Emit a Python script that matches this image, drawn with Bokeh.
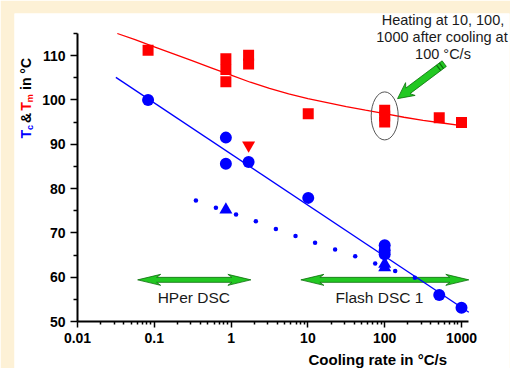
import numpy as np
from bokeh.plotting import figure
from bokeh.models import Label, FixedTicker
from bokeh.embed import file_html
from bokeh.resources import INLINE

# ---------------- data ----------------
x_ticks = [0.01, 0.1, 1, 10, 100, 1000]
x_tick_labels = ["0.01", "0.1", "1", "10", "100", "1000"]
y_ticks = [50, 60, 70, 80, 90, 100, 110]
y_minor = [55, 65, 75, 85, 95, 105, 115]
x_bounds = (0.01, 1245)
y_bounds = (50, 115)

# melting temperature Tm (red squares)
tm_rate = [0.083, 0.855, 0.855, 0.855, 1.69, 1.69, 10.1, 100, 100, 100, 513, 1000]
tm_temp = [111.2, 109.3, 106.9, 104.1, 110.1, 108.1, 96.9, 97.7, 96.4, 95.0, 96.0, 94.9]
# Tm fit curve
tm_fit_rate = [0.033, 0.0562, 0.1, 0.178, 0.316, 0.562, 1, 1.78, 3.16, 5.62, 10,
               17.8, 31.6, 56.2, 100, 178, 316, 562, 1000]
tm_fit_temp = [115.0, 113.6, 112.0, 110.4, 108.8, 107.2, 105.6, 104.0, 102.6, 101.4,
               100.3, 99.4, 98.5, 97.7, 96.9, 96.1, 95.4, 94.8, 94.2]
# red down triangle
tm2_rate = [1.69]
tm2_temp = [89.8]

# crystallisation temperature Tc (blue circles)
tc_rate = [0.083, 0.855, 0.855, 1.69, 10.1, 100, 100, 100, 513, 1000]
tc_temp = [100.0, 91.5, 85.6, 86.0, 77.9, 67.2, 66.1, 65.2, 56.0, 53.1]
# blue up triangles
tc2_rate = [0.855, 100, 100]
tc2_temp = [75.2, 63.0, 62.2]
# small blue dots (dotted series)
tcd_rate = [0.348, 0.634, 1.16, 2.1, 3.83, 6.9, 12.4, 22.6, 41.3, 75.2, 137, 247]
tcd_temp = [77.3, 75.7, 74.15, 72.6, 70.9, 69.3, 67.8, 66.25, 64.7, 63.1, 61.4, 59.9]
# Tc linear fit (in log rate)
tc_fit_rate = [0.0316, 1245]
tc_fit_temp = [105.1, 52.1]

# double arrows (ranges of instruments)
hper_range = [0.0607, 1.81]
flash_range = [8.1, 1245]
range_temp = 59.4
# pointer arrow: tail and tip
ptr_rate = [596, 147]
ptr_temp = [108.2, 100.3]
# ellipse around heating points
ell_rate = [100]
ell_temp = [96.4]

# ---------------- layout ----------------
W, H = 510, 368
PX_DEC = 76.8            # pixels per decade
PX_DEG = 288 / 65.0      # pixels per degree
AX_X, AX_Y = 77, 321     # canvas position of the axes origin (0.01, 50)
FR_L, FR_R, FR_T, FR_B = 14, 509, 13, 368   # white panel (plot frame), canvas px

def px2x(px):
    return 10 ** (-2 + (px - AX_X) / PX_DEC)

def py2y(py):
    return 50 + (AX_Y - py) / PX_DEG

def x2px(x):
    return AX_X + (np.log10(x) + 2) * PX_DEC

def y2py(y):
    return AX_Y - (y - 50) * PX_DEG

FONT = "Liberation Sans"
CREAM = "#fdf1d6"

p = figure(width=W, height=H, x_axis_type="log",
           x_range=(px2x(FR_L), px2x(FR_R)), y_range=(py2y(FR_B), py2y(FR_T)),
           output_backend="svg", toolbar_location=None,
           min_border_left=FR_L, min_border_top=FR_T,
           min_border_right=W - FR_R, min_border_bottom=H - FR_B)
p.border_fill_color = CREAM
p.background_fill_color = "white"
p.outline_line_color = None
p.grid.visible = False

minor_x = [m * d for d in [0.01, 0.1, 1, 10, 100] for m in range(2, 10)]
p.xaxis.ticker = FixedTicker(ticks=x_ticks, minor_ticks=minor_x)
p.xaxis.major_label_overrides = {t: l for t, l in zip(x_ticks, x_tick_labels)}
p.yaxis.ticker = FixedTicker(ticks=y_ticks, minor_ticks=y_minor)
p.xaxis.fixed_location = y_bounds[0]
p.yaxis.fixed_location = x_bounds[0]
p.xaxis.bounds = x_bounds
p.yaxis.bounds = y_bounds
for ax in (p.xaxis, p.yaxis):
    ax.axis_line_width = 2
    ax.axis_line_color = "black"
    ax.major_tick_line_width = 1.5
    ax.minor_tick_line_width = 1.5
    ax.major_tick_in = 0
    ax.minor_tick_in = 0
    ax.major_label_text_font = FONT
    ax.major_label_text_font_style = "bold"
    ax.major_label_text_font_size = "14px"
    ax.major_label_text_color = "black"
    ax.major_label_standoff = 5
p.xaxis.major_tick_out = 6
p.xaxis.minor_tick_out = 3
p.yaxis.major_tick_out = 7
p.yaxis.minor_tick_out = 4

GREEN = "#22c822"
DGREEN = "#0b6e0b"

def arrow_patch(x0, y0, x1, y1, L, w, t, notch, double):
    dx, dy = x1 - x0, y1 - y0
    ln = np.hypot(dx, dy)
    ux, uy = dx / ln, dy / ln
    nx, ny = -uy, ux
    P = lambda s, o: (x0 + ux * s + nx * o, y0 + uy * s + ny * o)
    pts = [P(ln, 0), P(ln - L, w), P(ln - L + notch, t)]
    if double:
        pts += [P(L - notch, t), P(L, w), P(0, 0), P(L, -w), P(L - notch, -t)]
    else:
        pts += [P(0, t), P(0, -t)]
    pts += [P(ln - L + notch, -t), P(ln - L, -w)]
    xs = [px2x(a) for a, b in pts]
    ys = [py2y(b) for a, b in pts]
    return xs, ys, (ux, uy, nx, ny)

for rng in (hper_range, flash_range):
    xs, ys, _ = arrow_patch(x2px(rng[0]), y2py(range_temp), x2px(rng[1]), y2py(range_temp),
                            L=23, w=5.5, t=2.5, notch=4, double=True)
    p.patch(xs, ys, fill_color=GREEN, line_color=DGREEN, line_width=0.8)

tx0, ty0 = x2px(ptr_rate[0]), y2py(ptr_temp[0])
tx1, ty1 = x2px(ptr_rate[1]), y2py(ptr_temp[1])
xs, ys, (ux, uy, nx, ny) = arrow_patch(tx0, ty0, tx1, ty1, L=16, w=8, t=3.5, notch=3, double=False)
p.patch(xs, ys, fill_color=GREEN, line_color=DGREEN, line_width=0.8)
for s in (3.5, 7.0):
    ax_, ay_ = tx0 + ux * s + nx * 3.5, ty0 + uy * s + ny * 3.5
    bx_, by_ = tx0 + ux * s - nx * 3.5, ty0 + uy * s - ny * 3.5
    p.segment(x0=[px2x(ax_)], y0=[py2y(ay_)], x1=[px2x(bx_)], y1=[py2y(by_)],
              line_color=DGREEN, line_width=1.2)

# fits
p.line(tm_fit_rate, tm_fit_temp, line_color="#ff0000", line_width=1.3)
p.line(tc_fit_rate, tc_fit_temp, line_color="#0000ff", line_width=1.3)

# ellipse
p.ellipse(x=ell_rate, y=ell_temp, width=27, height=48, width_units="screen",
          height_units="screen", fill_color=None, line_color="#555555", line_width=1)

# markers
p.scatter(tcd_rate, tcd_temp, marker="circle", size=4.5, fill_color="#0000ff", line_color=None)
p.scatter(tm_rate, tm_temp, marker="square", size=11, fill_color="#ff0000", line_color=None)
p.scatter(tm2_rate, tm2_temp, marker="inverted_triangle", size=13, fill_color="#ff0000", line_color=None)
p.scatter(tc_rate, tc_temp, marker="circle", size=12, fill_color="#0000ff", line_color=None)
p.scatter(tc2_rate, tc2_temp, marker="triangle", size=13, fill_color="#0000ff", line_color=None)

# texts
def lab(txt, px, py, size, color="#1a1a1a", style="normal", align="center",
        baseline="middle", angle=0.0):
    p.add_layout(Label(x=px2x(px), y=py2y(py), text=txt, text_font=FONT,
                       text_font_size=size, text_font_style=style, text_color=color,
                       text_align=align, text_baseline=baseline, angle=angle))

lab("HPer DSC", 193.3, 297.3, "15.5px")
lab("Flash DSC 1", 379, 297.3, "15.5px")
lab("Heating at 10, 100,", 442.5, 19.5, "14.5px")
lab("1000 after cooling at", 441.5, 36, "14.5px")
lab("100 °C/s", 442.5, 53, "14.5px")

lab("Cooling rate in °C/s", 308, 359, "15px", color="black", style="bold",
    align="left", baseline="alphabetic")

# y-axis title, rotated, built from pieces
A = np.pi / 2
BX = 25.5
lab("T", BX, 138, "14px", "#0000ff", "bold", "left", "alphabetic", A)
lab("c", BX + 3.5, 129.4, "9px", "#0000ff", "bold", "left", "alphabetic", A)
lab("&", BX, 122.4, "14px", "black", "bold", "left", "alphabetic", A)
lab("T", BX, 110.3, "14px", "#ff0000", "bold", "left", "alphabetic", A)
lab("m", BX + 3.5, 101.7, "9px", "#ff0000", "bold", "left", "alphabetic", A)
lab("in °C", BX, 89.5, "14px", "black", "bold", "left", "alphabetic", A)

open("out.html", "w").write(file_html(p, INLINE))
